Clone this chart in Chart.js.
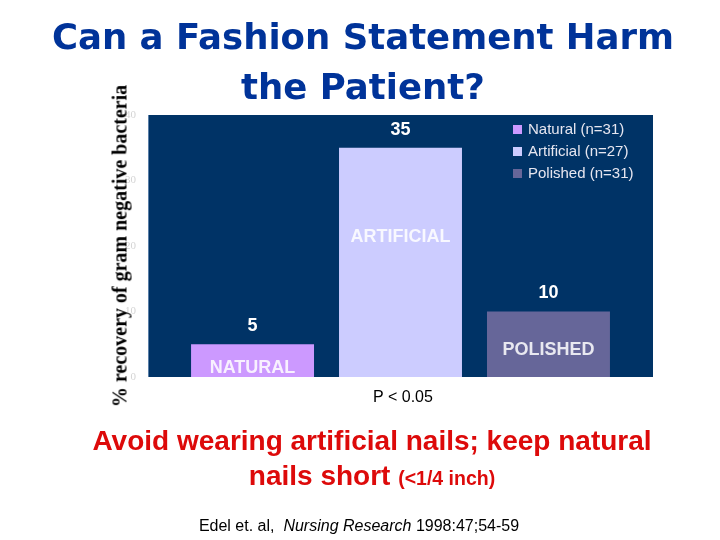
<!DOCTYPE html>
<html>
<head>
<meta charset="utf-8">
<script src="https://cdn.jsdelivr.net/npm/chart.js@4.4.1/dist/chart.umd.min.js"></script>
<style>
  html, body { margin: 0; padding: 0; background: #fff; }
  #wrap { position: relative; width: 720px; height: 540px; overflow: hidden; }
  #chart { position: absolute; left: 0; top: 0; }
  .txt { position: absolute; white-space: nowrap; }
  #title { left: 0; width: 726px; top: 12px; text-align: center; font: bold 35.5px "DejaVu Sans", sans-serif; color: #003399; line-height: 50px; }
  #ylabel { left: 120px; top: 246px; transform: translate(-50%, -50%) rotate(-90deg); font: bold 20px "Liberation Serif", serif; color: #000; }
  #pval { left: 403px; top: 388px; transform: translateX(-50%); font: 16px "Liberation Sans", Arial, sans-serif; color: #000; }
  #advice { left: 0; width: 744px; top: 423px; text-align: center; font: bold 28px "Liberation Sans", Arial, sans-serif; color: #dd0a0a; line-height: 35px; }
  #advice small { font-size: 19.5px; }
  #cite { left: 359px; top: 517px; transform: translateX(-50%); font: 16px "Liberation Sans", Arial, sans-serif; color: #000; }
</style>
</head>
<body>
<div id="wrap">
  <canvas id="chart" width="720" height="540"></canvas>
  <div class="txt" id="title">Can a Fashion Statement Harm<br>the Patient?</div>
  <div class="txt" id="ylabel">% recovery of gram negative bacteria</div>
  <div class="txt" id="pval">P &lt; 0.05</div>
  <div class="txt" id="advice">Avoid wearing artificial nails; keep natural<br>nails short <small>(&lt;1/4 inch)</small></div>
  <div class="txt" id="cite">Edel et. al,&nbsp; <i>Nursing Research</i> 1998:47;54-59</div>
</div>
<script>
const seriesNames = ["Natural (n=31)", "Artificial (n=27)", "Polished (n=31)"];
const barNames = ["NATURAL", "ARTIFICIAL", "POLISHED"];
const recovery = [5, 35, 10];
const yTicks = [0, 10, 20, 30, 40];
const barColors = ["#cc99ff", "#ccccff", "#666699"];

// where the word inside each bar sits, in axis units
const innerLabelAt = [1.4, 21.4, 4.1];

const plotBackground = {
    id: "plotBackground",
    beforeDraw(chart) {
        const { ctx, chartArea: a } = chart;
        ctx.save();
        ctx.fillStyle = "#003366";
        ctx.fillRect(a.left, a.top, a.right - a.left, a.bottom - a.top);
        ctx.strokeStyle = "#5a7fa8";
        ctx.lineWidth = 1;
        ctx.beginPath();
        ctx.moveTo(a.left + 0.5, a.top);
        ctx.lineTo(a.left + 0.5, a.bottom);
        ctx.stroke();
        ctx.restore();
    }
};

const barText = {
    id: "barText",
    afterDatasetsDraw(chart) {
        const { ctx } = chart;
        const y = chart.scales.y;
        ctx.save();
        ctx.textAlign = "center";
        ctx.textBaseline = "middle";
        ctx.font = "bold 18px 'Liberation Sans', Arial, sans-serif";
        chart.data.datasets.forEach((ds, i) => {
            const bar = chart.getDatasetMeta(i).data[0];
            ctx.fillStyle = "#ffffff";
            ctx.fillText(String(ds.data[0]), bar.x, bar.y - 18);
            ctx.fillStyle = "rgba(255,255,255,0.85)";
            ctx.fillText(barNames[i], bar.x, y.getPixelForValue(innerLabelAt[i]));
        });
        ctx.restore();
    }
};

const insideLegend = {
    id: "insideLegend",
    afterDraw(chart) {
        const { ctx, chartArea: a } = chart;
        ctx.save();
        ctx.font = "15px 'Liberation Sans', Arial, sans-serif";
        ctx.textBaseline = "middle";
        chart.data.datasets.forEach((ds, i) => {
            const top = a.top + 15 + i * 22;
            ctx.fillStyle = ds.backgroundColor;
            ctx.fillRect(a.right - 140, top - 5, 9, 9);
            ctx.fillStyle = "#e6e6f0";
            ctx.fillText(ds.label, a.right - 125, top);
        });
        ctx.restore();
    }
};

new Chart(document.getElementById("chart"), {
    type: "bar",
    data: {
        labels: [""],
        datasets: seriesNames.map((name, i) => ({
            label: name,
            data: [recovery[i]],
            backgroundColor: barColors[i],
            borderWidth: 0,
            categoryPercentage: 0.879,
            barPercentage: 0.831
        }))
    },
    options: {
        responsive: false,
        animation: false,
        devicePixelRatio: 1,
        layout: { padding: { left: 108, top: 115, right: 67, bottom: 163 } },
        plugins: {
            legend: { display: false },
            tooltip: { enabled: false }
        },
        scales: {
            x: { display: false },
            y: {
                min: 0,
                max: 40,
                afterBuildTicks(scale) {
                    scale.ticks = yTicks.map(v => ({ value: v }));
                },
                afterFit(scale) {
                    scale.width = 40;
                },
                grid: { display: false },
                border: { display: false },
                ticks: {
                    color: "#d4d4d4",
                    padding: 4,
                    font: { family: "'Liberation Serif', serif", size: 11 }
                }
            }
        }
    },
    plugins: [plotBackground, barText, insideLegend]
});
</script>
</body>
</html>
